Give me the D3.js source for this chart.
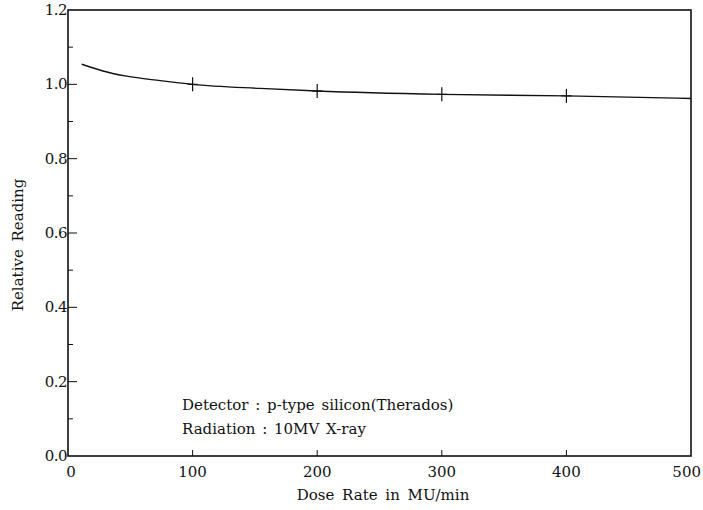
<!DOCTYPE html>
<html>
<head>
<meta charset="utf-8">
<script src="https://cdn.jsdelivr.net/npm/d3@7"></script>
<style>
  body { margin: 0; background: #fff; }
  svg text { font-family: "DejaVu Serif", "Liberation Serif", serif; fill: #111; }
</style>
</head>
<body>
<svg id="chart" width="703" height="510"></svg>
<script>
// fitted curve (dose rate, relative reading)
const curveDose  = [11, 28, 47, 74, 100, 154, 200, 300, 400, 500];
const curveValue = [1.054, 1.036, 1.022, 1.010, 1.000, 0.989, 0.982, 0.973, 0.969, 0.962];
// measured points (crosses)
const pointDose  = [100, 200, 300, 400];
const pointValue = [1.000, 0.982, 0.973, 0.969];

const xTicks = [0, 100, 200, 300, 400, 500];
const yTicks = [0.0, 0.2, 0.4, 0.6, 0.8, 1.0, 1.2];
const yMinor = [0.1, 0.3, 0.5, 0.7, 0.9, 1.1];
const noteLines = ["Detector : p-type silicon(Therados)", "Radiation : 10MV X-ray"];

const svg = d3.select('#chart');
const m = { left: 68, right: 691, top: 10, bottom: 456 };

const x = d3.scaleLinear().domain([0, 500]).range([m.left, m.right]);
const y = d3.scaleLinear().domain([0, 1.2]).range([m.bottom, m.top]);

// frame
svg.append('rect')
   .attr('x', m.left).attr('y', m.top)
   .attr('width', m.right - m.left).attr('height', m.bottom - m.top)
   .attr('fill', 'none').attr('stroke', '#111').attr('stroke-width', 1.6);

// x ticks (inward) + labels
const xg = svg.append('g');
xg.selectAll('line').data(xTicks.slice(1, -1)).enter().append('line')
  .attr('x1', d => x(d)).attr('x2', d => x(d))
  .attr('y1', m.bottom).attr('y2', m.bottom - 6)
  .attr('stroke', '#111').attr('stroke-width', 1);
xg.selectAll('text').data(xTicks).enter().append('text')
  .attr('x', d => d === 500 ? 701 : x(d) + (d === 0 ? 3 : 0))
  .attr('y', m.bottom + 21)
  .attr('text-anchor', d => d === 500 ? 'end' : 'middle')
  .attr('font-size', 15)
  .text(d => d);

// y ticks
const yg = svg.append('g');
yg.selectAll('line.major').data(yTicks.slice(1, -1)).enter().append('line')
  .attr('class', 'major')
  .attr('x1', m.left).attr('x2', m.left + 9)
  .attr('y1', d => y(d)).attr('y2', d => y(d))
  .attr('stroke', '#111').attr('stroke-width', 1);
yg.selectAll('line.minor').data(yMinor).enter().append('line')
  .attr('class', 'minor')
  .attr('x1', m.left).attr('x2', m.left + 5)
  .attr('y1', d => y(d)).attr('y2', d => y(d))
  .attr('stroke', '#111').attr('stroke-width', 1);
yg.selectAll('text').data(yTicks).enter().append('text')
  .attr('x', m.left - 1).attr('y', d => y(d) + 5)
  .attr('text-anchor', 'end').attr('font-size', 15)
  .attr('letter-spacing', -0.5)
  .text(d => d.toFixed(1));

// axis titles
svg.append('text')
   .attr('x', 383).attr('y', 500)
   .attr('text-anchor', 'middle').attr('font-size', 15)
   .attr('word-spacing', 3)
   .text('Dose Rate in MU/min');
svg.append('text')
   .attr('transform', 'translate(23,245) rotate(-90)')
   .attr('text-anchor', 'middle').attr('font-size', 15)
   .attr('word-spacing', 3)
   .text('Relative Reading');

// curve
const line = d3.line()
   .curve(d3.curveMonotoneX)
   .x(d => x(d))
   .y((d, i) => y(curveValue[i]));
svg.append('path')
   .datum(curveDose)
   .attr('d', line)
   .attr('fill', 'none').attr('stroke', '#111').attr('stroke-width', 1.4);

// crosses
const cross = svg.selectAll('.cross').data(pointDose).enter().append('g')
   .attr('class', 'cross')
   .attr('transform', (d, i) => `translate(${x(d)},${y(pointValue[i])})`);
cross.append('line').attr('x1', -5).attr('x2', 5).attr('y1', 0).attr('y2', 0)
   .attr('stroke', '#111').attr('stroke-width', 1.2);
cross.append('line').attr('x1', 0).attr('x2', 0).attr('y1', -7).attr('y2', 7)
   .attr('stroke', '#111').attr('stroke-width', 1.2);

// note text
svg.selectAll('.note').data(noteLines).enter().append('text')
   .attr('class', 'note')
   .attr('x', 182).attr('y', (d, i) => 410 + i * 24)
   .attr('font-size', 15).attr('word-spacing', 2)
   .text(d => d);
</script>
</body>
</html>
